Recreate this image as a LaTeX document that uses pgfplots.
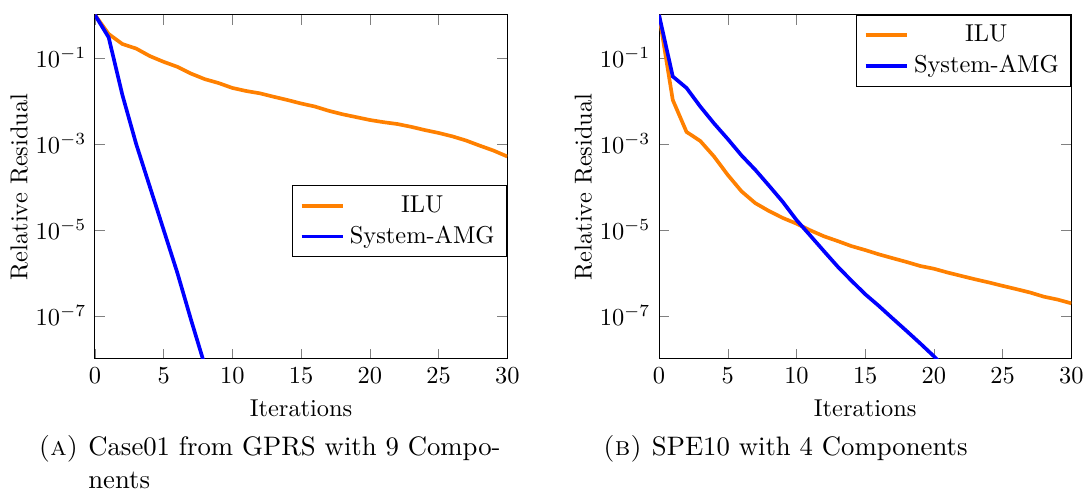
\documentclass[border=0pt]{standalone}
\usepackage{pgfplots}
\pgfplotsset{compat=1.18}
\definecolor{ilu}{RGB}{255,128,0}
\begin{document}
\begin{tikzpicture}
\path[use as bounding box] (0,0) rectangle (445.5pt,201.2pt);
\begin{axis}[at={(38.9pt,54.1pt)}, anchor=south west,
    scale only axis,
    width=169pt, height=141pt,
    ymode=log,
    xmin=0, xmax=30, ymin=1e-8, ymax=1,
    xtick={0,5,...,30},
    ytick={1e-1,1e-3,1e-5,1e-7},
    xlabel={Iterations},
    ylabel={Relative Residual},
    ylabel shift=-3.7pt,
    legend cell align=center,
    legend style={draw=black, fill=white, at={(1,0.4)}, anchor=east}]
\addplot[color=ilu, line width=1.5pt, no markers] coordinates {
(0,1) (1,0.36) (2,0.21) (3,0.165) (4,0.11) (5,0.081) (6,0.062) (7,0.043) (8,0.032) (9,0.026)
(10,0.020) (11,0.017) (12,0.015) (13,0.0125) (14,0.0105) (15,0.0087) (16,0.0074) (17,0.0059)
(18,0.0049) (19,0.0042) (20,0.0036) (21,0.0032) (22,0.0029) (23,0.0025) (24,0.0021) (25,0.0018)
(26,0.0015) (27,0.0012) (28,0.00091) (29,0.00070) (30,0.00051)
};
\addlegendentry{ILU}
\addplot[color=blue, line width=1.5pt, no markers] coordinates {
(0,1) (1,0.30) (2,0.0137) (3,1.0e-3) (4,1.0e-4) (5,1.0e-5) (6,1.0e-6) (7,8e-8) (8,7e-9)
};
\addlegendentry{System-AMG}
\end{axis}
\begin{axis}[at={(270.1pt,54.1pt)}, anchor=south west,
    scale only axis,
    width=169pt, height=141pt,
    ymode=log,
    xmin=0, xmax=30, ymin=1e-8, ymax=1,
    xtick={0,5,...,30},
    ytick={1e-1,1e-3,1e-5,1e-7},
    xlabel={Iterations},
    ylabel={Relative Residual},
    ylabel shift=-3.7pt,
    legend cell align=center,
    legend style={draw=black, fill=white, at={(1,1)}, anchor=north east}]
\addplot[color=ilu, line width=1.5pt, no markers] coordinates {
(0,1) (1,0.0105) (2,0.0019) (3,0.00117) (4,5.1e-4) (5,1.9e-4) (6,7.9e-5) (7,4.2e-5) (8,2.75e-5)
(9,1.9e-5) (10,1.4e-5) (11,9.8e-6) (12,7.1e-6) (13,5.5e-6) (14,4.2e-6) (15,3.4e-6) (16,2.7e-6)
(17,2.2e-6) (18,1.8e-6) (19,1.45e-6) (20,1.25e-6) (21,1.02e-6) (22,8.5e-7) (23,7.1e-7) (24,6.0e-7)
(25,5.0e-7) (26,4.2e-7) (27,3.5e-7) (28,2.8e-7) (29,2.4e-7) (30,1.96e-7)
};
\addlegendentry{ILU}
\addplot[color=blue, line width=1.5pt, no markers] coordinates {
(0,1) (1,0.037) (2,0.020) (3,0.0074) (4,0.0030) (5,1.3e-3) (6,5.4e-4) (7,2.5e-4) (8,1.07e-4)
(9,4.5e-5) (10,1.7e-5) (11,7.4e-6) (12,3.2e-6) (13,1.4e-6) (14,6.6e-7) (15,3.2e-7) (16,1.7e-7)
(17,8.7e-8) (18,4.5e-8) (19,2.3e-8) (20,1.15e-8) (21,5.5e-9)
};
\addlegendentry{System-AMG}
\end{axis}
\begin{scope}[every node/.style={inner sep=0pt, font=\fontsize{10.95}{13.6}\selectfont}]
\node[anchor=base west] at (36pt,14.5pt) {Case01 from GPRS with 9 Compo-};
\node[anchor=base west] at (36pt,1pt) {nents};
\node[anchor=base east] at (32.3pt,14.5pt) {\textsc{(a)}};
\node[anchor=base west] at (267pt,14.5pt) {SPE10 with 4 Components};
\node[anchor=base east] at (263.3pt,14.5pt) {\textsc{(b)}};
\end{scope}
\end{tikzpicture}
\end{document}
